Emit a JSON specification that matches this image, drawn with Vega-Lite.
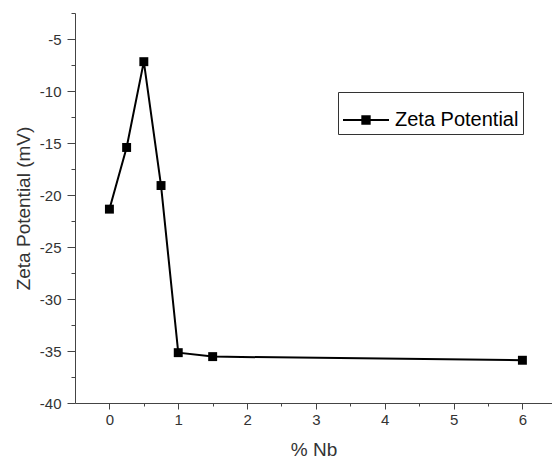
{
  "$schema": "https://vega.github.io/schema/vega-lite/v6.json",
  "width": 477,
  "height": 390,
  "autosize": {"type": "none"},
  "padding": {"left": 75, "top": 13, "right": 0, "bottom": 56},
  "background": "white",
  "config": {
    "view": {"stroke": null},
    "font": "Liberation Sans",
    "axis": {
      "domainColor": "#444",
      "tickColor": "#444",
      "labelColor": "#333",
      "titleColor": "#333",
      "labelFont": "Liberation Sans",
      "titleFont": "Liberation Sans",
      "labelFontSize": 15,
      "titleFontSize": 19,
      "titleFontWeight": "normal",
      "grid": false
    }
  },
  "data": {
    "values": [
      {"pct": 0, "zeta": -21.36, "series": "Zeta Potential"},
      {"pct": 0.25, "zeta": -15.43, "series": "Zeta Potential"},
      {"pct": 0.5, "zeta": -7.18, "series": "Zeta Potential"},
      {"pct": 0.75, "zeta": -19.09, "series": "Zeta Potential"},
      {"pct": 1, "zeta": -35.16, "series": "Zeta Potential"},
      {"pct": 1.5, "zeta": -35.54, "series": "Zeta Potential"},
      {"pct": 6, "zeta": -35.89, "series": "Zeta Potential"}
    ]
  },
  "layer": [
    {
      "description": "Invisible layer carrying the minor tick marks of both axes",
      "mark": {"type": "point", "opacity": 0},
      "encoding": {
        "x": {
          "field": "pct",
          "type": "quantitative",
          "scale": {"domain": [-0.5, 6.43], "nice": false, "zero": false},
          "axis": {
            "orient": "bottom",
            "values": [0.5, 1.5, 2.5, 3.5, 4.5, 5.5],
            "labels": false,
            "domain": false,
            "tickSize": 3,
            "title": null
          }
        },
        "y": {
          "field": "zeta",
          "type": "quantitative",
          "scale": {"domain": [-40, -2.5], "nice": false, "zero": false},
          "axis": {
            "orient": "left",
            "values": [-37.5, -32.5, -27.5, -22.5, -17.5, -12.5, -7.5, -2.5],
            "labels": false,
            "domain": false,
            "tickSize": 4,
            "title": null
          }
        }
      }
    },
    {
      "mark": {"type": "line", "strokeWidth": 2},
      "encoding": {
        "x": {
          "field": "pct",
          "type": "quantitative",
          "axis": {
            "orient": "bottom",
            "values": [0, 1, 2, 3, 4, 5, 6],
            "tickSize": 6,
            "labelPadding": 3,
            "title": "% Nb",
            "titlePadding": 13
          }
        },
        "y": {
          "field": "zeta",
          "type": "quantitative",
          "axis": {
            "orient": "left",
            "values": [-40, -35, -30, -25, -20, -15, -10, -5],
            "labelExpr": "replace(datum.label, '\u2212', '-')",
            "tickSize": 8,
            "labelPadding": 6,
            "title": "Zeta Potential (mV)",
            "titlePadding": 6
          }
        },
        "color": {
          "field": "series",
          "type": "nominal",
          "title": null,
          "scale": {"range": ["black"]},
          "legend": {
            "orient": "none",
            "legendX": 263,
            "legendY": 79,
            "strokeColor": "#333",
            "fillColor": "white",
            "padding": 4,
            "symbolType": "M-1,0H1M-0.16,-0.16H0.16V0.16H-0.16Z",
            "symbolSize": 2116,
            "symbolStrokeWidth": 2,
            "symbolStrokeColor": "black",
            "symbolFillColor": "black",
            "labelFontSize": 20,
            "labelFont": "Liberation Sans",
            "labelColor": "black",
            "labelOffset": 5,
            "encode": {
              "symbols": {"update": {"fill": {"value": "black"}, "stroke": {"value": "black"}}}
            }
          }
        }
      }
    },
    {
      "mark": {"type": "point", "shape": "square", "filled": true, "size": 80, "color": "black", "opacity": 1},
      "encoding": {
        "x": {"field": "pct", "type": "quantitative", "axis": null},
        "y": {"field": "zeta", "type": "quantitative", "axis": null}
      }
    }
  ],
  "resolve": {"axis": {"x": "independent", "y": "independent"}}
}
